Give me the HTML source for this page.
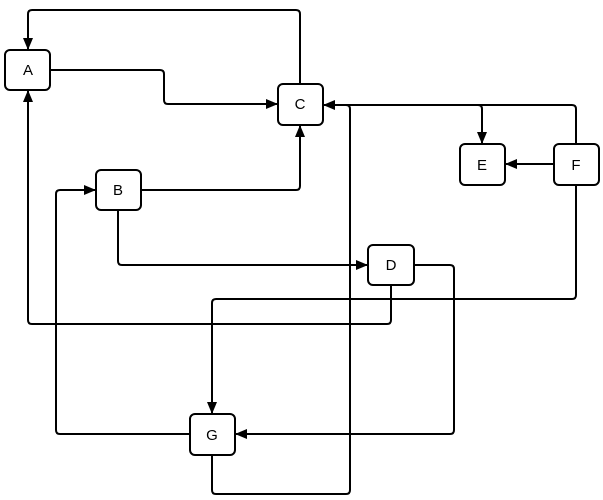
<!DOCTYPE html>
<html><head><meta charset="utf-8"><style>
html,body{margin:0;padding:0;background:#fff;}
svg{display:block;}
text{font-family:"Liberation Sans",sans-serif;font-size:15px;}
</style></head><body>
<svg width="603" height="500" viewBox="0 0 603 500">
<defs>
<marker id="ar" viewBox="0 0 10 10" refX="10" refY="5" markerWidth="10" markerHeight="10" markerUnits="userSpaceOnUse" orient="auto">
<path d="M0,0 L10,5 L0,10 z" fill="#000"/>
</marker>
<marker id="ar2" viewBox="0 0 12 10" refX="12" refY="5" markerWidth="12" markerHeight="12" markerUnits="userSpaceOnUse" orient="auto">
<path d="M0,0 L12,5 L0,10 z" fill="#000"/>
</marker>
</defs>
<g fill="none" stroke="#000" stroke-width="2" stroke-linejoin="round">
<!-- C -> A -->
<path d="M300,85 V14 Q300,10 296,10 H32 Q28,10 28,14 V50" marker-end="url(#ar2)"/>
<!-- A -> C -->
<path d="M50,70 H160 Q164,70 164,74 V100 Q164,104 168,104 H278" marker-end="url(#ar2)"/>
<!-- B -> C -->
<path d="M141,190 H296 Q300,190 300,186 V125" marker-end="url(#ar2)"/>
<!-- F -> C -->
<path d="M576,144 V109 Q576,105 572,105 H323" marker-end="url(#ar2)"/>
<!-- branch to E -->
<path d="M478,105 Q482,105 482,109 V144" marker-end="url(#ar2)"/>
<!-- F -> E -->
<path d="M554,164 H505" marker-end="url(#ar2)"/>
<!-- F -> G -->
<path d="M576,185 V295 Q576,299 572,299 H216 Q212,299 212,303 V414" marker-end="url(#ar2)"/>
<!-- B -> D -->
<path d="M118,210 V261 Q118,265 122,265 H368" marker-end="url(#ar2)"/>
<!-- D -> G -->
<path d="M414,265 H450 Q454,265 454,269 V430 Q454,434 450,434 H235" marker-end="url(#ar2)"/>
<!-- D -> A -->
<path d="M391,285 V320 Q391,324 387,324 H32 Q28,324 28,320 V90" marker-end="url(#ar2)"/>
<!-- G -> B -->
<path d="M190,434 H60 Q56,434 56,430 V194 Q56,190 60,190 H96" marker-end="url(#ar2)"/>
<!-- G -> C -->
<path d="M212,455 V490 Q212,494 216,494 H346 Q350,494 350,490 V109 Q350,105 346,105 H340"/>
</g>
<g fill="#fff" stroke="#000" stroke-width="2">
<rect x="5" y="50" width="45" height="40" rx="5"/>
<rect x="278" y="84" width="45" height="41" rx="5"/>
<rect x="96" y="170" width="45" height="40" rx="5"/>
<rect x="460" y="144" width="45" height="41" rx="5"/>
<rect x="554" y="144" width="45" height="41" rx="5"/>
<rect x="368" y="245" width="46" height="40" rx="5"/>
<rect x="190" y="414" width="45" height="41" rx="5"/>
</g>
<g text-anchor="middle" fill="#000">
<text x="28" y="75">A</text>
<text x="300" y="109">C</text>
<text x="118" y="195">B</text>
<text x="482" y="170">E</text>
<text x="576" y="170">F</text>
<text x="391" y="270">D</text>
<text x="212" y="440">G</text>
</g>
</svg>
</body></html>
